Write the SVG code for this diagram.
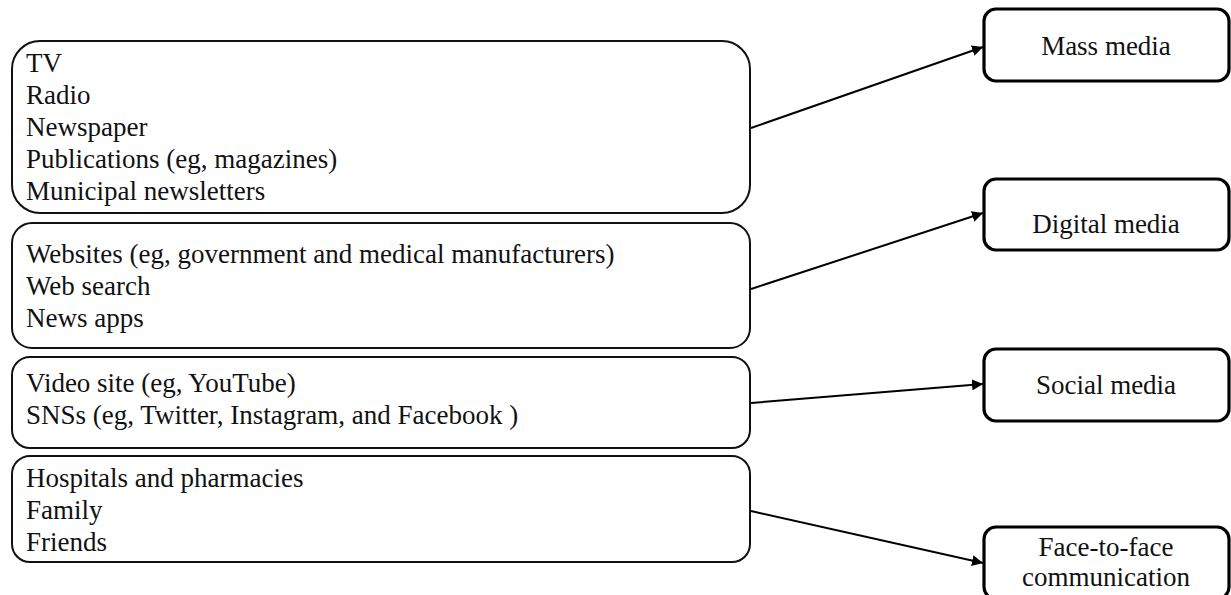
<svg xmlns="http://www.w3.org/2000/svg" width="1231" height="595" viewBox="0 0 1231 595">
<style>
.src{fill:#fff;stroke:#111;stroke-width:2}
.dst{fill:#fff;stroke:#000;stroke-width:3.2}
text{font-family:"Liberation Serif","Times New Roman",serif;font-size:27px;fill:#111}
.c{text-anchor:middle}
.conn{stroke:#000;stroke-width:2;fill:none}
</style>
<defs>
<marker id="ah" viewBox="0 0 10 10" refX="10" refY="5" markerWidth="5.5" markerHeight="5.5" orient="auto" markerUnits="strokeWidth">
<path d="M0,0 L10,5 L0,10 z" fill="#000"/>
</marker>
</defs>
<rect width="1231" height="595" fill="#fff"/>
<g id="src-mass">
<rect class="src" x="12" y="41" width="738" height="172" rx="28"/>
<text x="26" y="72">TV</text>
<text x="26" y="104">Radio</text>
<text x="26" y="136">Newspaper</text>
<text x="26" y="168">Publications (eg, magazines)</text>
<text x="26" y="200">Municipal newsletters</text>
</g>
<g id="src-digital">
<rect class="src" x="12" y="223" width="738" height="125" rx="20"/>
<text x="26" y="263">Websites (eg, government and medical manufacturers)</text>
<text x="26" y="295">Web search</text>
<text x="26" y="327">News apps</text>
</g>
<g id="src-social">
<rect class="src" x="12" y="357" width="738" height="91" rx="18"/>
<text x="26" y="392">Video site (eg, YouTube)</text>
<text x="26" y="424">SNSs (eg, Twitter, Instagram, and Facebook )</text>
</g>
<g id="src-face">
<rect class="src" x="12" y="456" width="738" height="106" rx="18"/>
<text x="26" y="487">Hospitals and pharmacies</text>
<text x="26" y="519">Family</text>
<text x="26" y="551">Friends</text>
</g>
<g id="mass-media">
<rect class="dst" x="984" y="9" width="245" height="72" rx="12"/>
<text class="c" x="1106" y="55">Mass media</text>
</g>
<g id="digital-media">
<rect class="dst" x="984" y="179" width="245" height="71" rx="12"/>
<text class="c" x="1106" y="233">Digital media</text>
</g>
<g id="social-media">
<rect class="dst" x="984" y="349" width="245" height="72" rx="12"/>
<text class="c" x="1106" y="394">Social media</text>
</g>
<g id="face-to-face">
<rect class="dst" x="984" y="527" width="245" height="72" rx="12"/>
<text class="c" x="1106" y="556">Face-to-face</text>
<text class="c" x="1106" y="586">communication</text>
</g>
<g id="connectors">
<line class="conn" x1="751" y1="128" x2="983" y2="47" marker-end="url(#ah)"/>
<line class="conn" x1="751" y1="289" x2="983" y2="213" marker-end="url(#ah)"/>
<line class="conn" x1="751" y1="403" x2="983" y2="384" marker-end="url(#ah)"/>
<line class="conn" x1="751" y1="511" x2="983" y2="563" marker-end="url(#ah)"/>
</g>
</svg>
